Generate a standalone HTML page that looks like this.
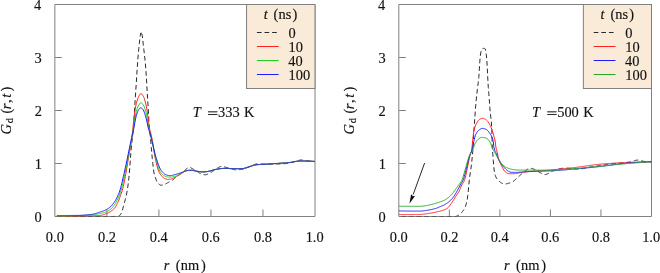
<!DOCTYPE html>
<html><head><meta charset="utf-8"><style>
html,body{margin:0;padding:0;background:#fff;}
svg{display:block;will-change:transform;}
.n{font-family:"Liberation Serif",serif;font-size:14.4px;fill:#111;stroke:#111;stroke-width:0.15px;}
</style></head><body>
<svg width="660" height="273" viewBox="0 0 660 273">

<line x1="54.85" y1="163.50" x2="61.85" y2="163.50" stroke="#808080" stroke-width="1"/>
<line x1="54.85" y1="110.50" x2="61.85" y2="110.50" stroke="#808080" stroke-width="1"/>
<line x1="54.85" y1="57.50" x2="61.85" y2="57.50" stroke="#808080" stroke-width="1"/>
<line x1="106.88" y1="216.5" x2="106.88" y2="209.50" stroke="#808080" stroke-width="1"/>
<line x1="158.91" y1="216.5" x2="158.91" y2="209.50" stroke="#808080" stroke-width="1"/>
<line x1="210.94" y1="216.5" x2="210.94" y2="209.50" stroke="#808080" stroke-width="1"/>
<line x1="262.97" y1="216.5" x2="262.97" y2="209.50" stroke="#808080" stroke-width="1"/>
<path d="M54.85,4.5 L54.85,216.5 L315.0,216.5 L315.0,4.5 Z" fill="none" stroke="#808080" stroke-width="1"/>
<clipPath id="c54"><rect x="54.85" y="4.5" width="260.15" height="212.00"/></clipPath>
<g clip-path="url(#c54)">
<path d="M56.80,216.50 L57.30,216.50 L57.80,216.50 L58.30,216.50 L58.80,216.50 L59.30,216.50 L59.80,216.50 L60.30,216.50 L60.80,216.50 L61.30,216.50 L61.80,216.50 L62.30,216.50 L62.80,216.50 L63.30,216.50 L63.80,216.50 L64.30,216.50 L64.80,216.50 L65.30,216.50 L65.80,216.50 L66.30,216.50 L66.80,216.50 L67.30,216.50 L67.80,216.50 L68.30,216.50 L68.80,216.50 L69.30,216.50 L69.80,216.50 L70.30,216.50 L70.80,216.50 L71.30,216.50 L71.80,216.50 L72.30,216.50 L72.80,216.50 L73.30,216.50 L73.80,216.50 L74.30,216.50 L74.80,216.50 L75.30,216.50 L75.80,216.50 L76.30,216.50 L76.80,216.50 L77.30,216.50 L77.80,216.50 L78.30,216.50 L78.80,216.50 L79.30,216.50 L79.80,216.50 L80.30,216.50 L80.80,216.50 L81.30,216.50 L81.80,216.50 L82.30,216.50 L82.80,216.50 L83.30,216.50 L83.80,216.50 L84.30,216.50 L84.80,216.50 L85.30,216.50 L85.80,216.50 L86.30,216.50 L86.80,216.50 L87.30,216.50 L87.80,216.50 L88.30,216.50 L88.80,216.50 L89.30,216.50 L89.80,216.50 L90.30,216.50 L90.80,216.50 L91.30,216.50 L91.80,216.50 L92.30,216.50 L92.80,216.50 L93.30,216.50 L93.80,216.50 L94.30,216.50 L94.80,216.50 L95.30,216.50 L95.80,216.50 L96.30,216.50 L96.80,216.50 L97.30,216.50 L97.80,216.50 L98.30,216.50 L98.80,216.50 L99.30,216.50 L99.80,216.50 L100.30,216.50 L100.80,216.50 L101.30,216.50 L101.80,216.50 L102.30,216.50 L102.80,216.50 L103.30,216.50 L103.80,216.50 L104.30,216.50 L104.80,216.50 L105.30,216.50 L105.80,216.50 L106.30,216.50 L106.80,216.50 L107.30,216.50 L107.80,216.50 L108.30,216.50 L108.80,216.50 L109.30,216.50 L109.80,216.50 L110.30,216.50 L110.80,216.50 L111.30,216.50 L111.80,216.49 L112.30,216.49 L112.80,216.48 L113.30,216.47 L113.80,216.46 L114.30,216.45 L114.80,216.44 L115.30,216.43 L115.80,216.41 L116.30,216.39 L116.80,216.37 L117.30,216.35 L117.80,216.33 L118.30,216.30 L118.80,216.16 L119.30,215.83 L119.80,215.33 L120.30,214.70 L120.80,213.98 L121.30,213.20 L121.80,212.11 L122.30,210.57 L122.80,208.75 L123.30,206.81 L123.80,204.94 L124.30,203.14 L124.80,201.34 L125.30,199.47 L125.80,197.48 L126.30,195.29 L126.80,192.86 L127.30,190.12 L127.80,186.83 L128.30,182.93 L128.80,178.48 L129.30,173.50 L129.80,167.14 L130.30,160.28 L130.80,153.61 L131.30,147.75 L131.80,143.00 L132.30,138.67 L132.80,134.27 L133.30,130.03 L133.80,123.76 L134.30,113.71 L134.80,105.25 L135.30,97.98 L135.80,90.55 L136.30,82.59 L136.80,74.64 L137.30,67.11 L137.80,59.88 L138.30,53.69 L138.80,48.48 L139.30,43.59 L139.80,39.17 L140.30,35.50 L140.80,32.95 L141.30,32.82" fill="none" stroke="#2a2a2a" stroke-width="1.0" stroke-dasharray="4.7 2.9" stroke-dashoffset="6.9" stroke-linejoin="round"/>
<path d="M141.30,32.82 L141.80,33.92 L142.30,35.92 L142.80,39.84 L143.30,44.86 L143.80,49.28 L144.30,53.44 L144.80,57.91 L145.30,63.06 L145.80,68.97 L146.30,76.15 L146.80,85.03 L147.30,93.75 L147.80,101.74 L148.30,110.00 L148.80,120.07 L149.30,127.90 L149.80,132.03 L150.30,136.00 L150.80,141.60 L151.30,147.66 L151.80,153.29 L152.30,158.68 L152.80,163.45 L153.30,168.01 L153.80,171.85 L154.30,174.32 L154.80,175.94 L155.30,177.28 L155.80,178.70 L156.30,180.24 L156.80,181.51 L157.30,182.34 L157.80,183.01 L158.30,183.54 L158.80,183.96 L159.30,184.37 L159.80,184.74 L160.30,185.03 L160.80,185.18 L161.30,185.19 L161.80,185.16 L162.30,185.10 L162.80,185.03 L163.30,184.94 L163.80,184.82 L164.30,184.60 L164.80,184.32 L165.30,184.02 L165.80,183.75 L166.30,183.50 L166.80,183.24 L167.30,182.99 L167.80,182.73 L168.30,182.47 L168.80,182.21 L169.30,181.94 L169.80,181.68 L170.30,181.42 L170.80,181.16 L171.30,180.89 L171.80,180.60 L172.30,180.30 L172.80,179.96 L173.30,179.58 L173.80,179.15 L174.30,178.71 L174.80,178.25 L175.30,177.80 L175.80,177.37 L176.30,176.96 L176.80,176.56 L177.30,176.17 L177.80,175.79 L178.30,175.41 L178.80,175.03 L179.30,174.65 L179.80,174.28 L180.30,173.91 L180.80,173.55 L181.30,173.19 L181.80,172.83 L182.30,172.47 L182.80,172.11 L183.30,171.75 L183.80,171.38 L184.30,170.99 L184.80,170.60 L185.30,170.14 L185.80,169.60 L186.30,169.02 L186.80,168.46 L187.30,167.96 L187.80,167.57 L188.30,167.34 L188.80,167.31 L189.30,167.36 L189.80,167.48 L190.30,167.64 L190.80,167.84 L191.30,168.08 L191.80,168.34 L192.30,168.61 L192.80,168.89 L193.30,169.17 L193.80,169.45 L194.30,169.70 L194.80,169.96 L195.30,170.25 L195.80,170.56 L196.30,170.89 L196.80,171.23 L197.30,171.57 L197.80,171.92 L198.30,172.27 L198.80,172.61 L199.30,172.93 L199.80,173.23 L200.30,173.51 L200.80,173.76 L201.30,173.97 L201.80,174.14 L202.30,174.28 L202.80,174.41 L203.30,174.53 L203.80,174.64 L204.30,174.72 L204.80,174.78 L205.30,174.80 L205.80,174.76 L206.30,174.65 L206.80,174.48 L207.30,174.28 L207.80,174.05 L208.30,173.83 L208.80,173.61 L209.30,173.38 L209.80,173.11 L210.30,172.83 L210.80,172.52 L211.30,172.20 L211.80,171.86 L212.30,171.52 L212.80,171.17 L213.30,170.83 L213.80,170.49 L214.30,170.16 L214.80,169.83 L215.30,169.53 L215.80,169.24 L216.30,168.94 L216.80,168.62 L217.30,168.28 L217.80,167.94 L218.30,167.61 L218.80,167.31 L219.30,167.03 L219.80,166.80 L220.30,166.63 L220.80,166.53 L221.30,166.50 L221.80,166.52 L222.30,166.56 L222.80,166.62 L223.30,166.70 L223.80,166.80 L224.30,166.90 L224.80,167.02 L225.30,167.13 L225.80,167.26 L226.30,167.38 L226.80,167.49 L227.30,167.60 L227.80,167.71 L228.30,167.84 L228.80,167.99 L229.30,168.14 L229.80,168.31 L230.30,168.47 L230.80,168.64 L231.30,168.81 L231.80,168.98 L232.30,169.13 L232.80,169.28 L233.30,169.42 L233.80,169.54 L234.30,169.64 L234.80,169.72 L235.30,169.77 L235.80,169.80 L236.30,169.80 L236.80,169.79 L237.30,169.78 L237.80,169.75 L238.30,169.73 L238.80,169.69 L239.30,169.65 L239.80,169.61 L240.30,169.56 L240.80,169.51 L241.30,169.46 L241.80,169.40 L242.30,169.34 L242.80,169.27 L243.30,169.18 L243.80,169.06 L244.30,168.91 L244.80,168.74 L245.30,168.55 L245.80,168.34 L246.30,168.12 L246.80,167.90 L247.30,167.67 L247.80,167.44 L248.30,167.21 L248.80,166.99 L249.30,166.77 L249.80,166.57 L250.30,166.39 L250.80,166.18 L251.30,165.96 L251.80,165.72 L252.30,165.49 L252.80,165.25 L253.30,165.02 L253.80,164.80 L254.30,164.59 L254.80,164.41 L255.30,164.26 L255.80,164.13 L256.30,164.05 L256.80,164.00 L257.30,164.00 L257.80,164.00 L258.30,164.01 L258.80,164.01 L259.30,164.02 L259.80,164.02 L260.30,164.03 L260.80,164.04 L261.30,164.05 L261.80,164.06 L262.30,164.07 L262.80,164.08 L263.30,164.10 L263.80,164.11 L264.30,164.12 L264.80,164.13 L265.30,164.14 L265.80,164.15 L266.30,164.16 L266.80,164.17 L267.30,164.18 L267.80,164.18 L268.30,164.19 L268.80,164.20 L269.30,164.20 L269.80,164.20 L270.30,164.20 L270.80,164.20 L271.30,164.20 L271.80,164.19 L272.30,164.19 L272.80,164.18 L273.30,164.17 L273.80,164.16 L274.30,164.15 L274.80,164.14 L275.30,164.13 L275.80,164.11 L276.30,164.10 L276.80,164.08 L277.30,164.06 L277.80,164.04 L278.30,164.02 L278.80,164.00 L279.30,163.98 L279.80,163.96 L280.30,163.93 L280.80,163.90 L281.30,163.88 L281.80,163.85 L282.30,163.82 L282.80,163.79 L283.30,163.76 L283.80,163.73 L284.30,163.70 L284.80,163.66 L285.30,163.63 L285.80,163.59 L286.30,163.55 L286.80,163.52 L287.30,163.47 L287.80,163.41 L288.30,163.33 L288.80,163.24 L289.30,163.13 L289.80,163.00 L290.30,162.87 L290.80,162.73 L291.30,162.58 L291.80,162.43 L292.30,162.28 L292.80,162.13 L293.30,161.97 L293.80,161.83 L294.30,161.68 L294.80,161.55 L295.30,161.42 L295.80,161.28 L296.30,161.12 L296.80,160.96 L297.30,160.79 L297.80,160.63 L298.30,160.47 L298.80,160.33 L299.30,160.21 L299.80,160.11 L300.30,160.04 L300.80,160.00 L301.30,160.00 L301.80,160.03 L302.30,160.07 L302.80,160.13 L303.30,160.20 L303.80,160.29 L304.30,160.38 L304.80,160.47 L305.30,160.57 L305.80,160.67 L306.30,160.76 L306.80,160.84 L307.30,160.92 L307.80,160.98 L308.30,161.03 L308.80,161.07 L309.30,161.12 L309.80,161.16 L310.30,161.21 L310.80,161.25 L311.30,161.29 L311.80,161.32 L312.30,161.36 L312.80,161.39 L313.30,161.42 L313.80,161.45 L314.30,161.47 L314.80,161.49 L315.00,161.50" fill="none" stroke="#2a2a2a" stroke-width="1.0" stroke-dasharray="4.7 2.9" stroke-dashoffset="6.94" stroke-linejoin="round"/>
<path d="M56.80,216.60 L57.30,216.60 L57.80,216.60 L58.30,216.60 L58.80,216.60 L59.30,216.60 L59.80,216.59 L60.30,216.59 L60.80,216.59 L61.30,216.59 L61.80,216.58 L62.30,216.58 L62.80,216.58 L63.30,216.57 L63.80,216.57 L64.30,216.56 L64.80,216.56 L65.30,216.55 L65.80,216.55 L66.30,216.54 L66.80,216.54 L67.30,216.53 L67.80,216.53 L68.30,216.52 L68.80,216.51 L69.30,216.51 L69.80,216.50 L70.30,216.50 L70.80,216.49 L71.30,216.48 L71.80,216.47 L72.30,216.46 L72.80,216.44 L73.30,216.43 L73.80,216.41 L74.30,216.40 L74.80,216.38 L75.30,216.36 L75.80,216.34 L76.30,216.32 L76.80,216.31 L77.30,216.29 L77.80,216.27 L78.30,216.25 L78.80,216.23 L79.30,216.20 L79.80,216.18 L80.30,216.16 L80.80,216.15 L81.30,216.13 L81.80,216.11 L82.30,216.09 L82.80,216.07 L83.30,216.05 L83.80,216.03 L84.30,216.01 L84.80,215.99 L85.30,215.97 L85.80,215.94 L86.30,215.92 L86.80,215.90 L87.30,215.88 L87.80,215.86 L88.30,215.84 L88.80,215.82 L89.30,215.80 L89.80,215.78 L90.30,215.76 L90.80,215.74 L91.30,215.72 L91.80,215.71 L92.30,215.69 L92.80,215.68 L93.30,215.67 L93.80,215.66 L94.30,215.65 L94.80,215.64 L95.30,215.63 L95.80,215.62 L96.30,215.61 L96.80,215.60 L97.30,215.59 L97.80,215.58 L98.30,215.57 L98.80,215.55 L99.30,215.53 L99.80,215.51 L100.30,215.48 L100.80,215.42 L101.30,215.32 L101.80,215.21 L102.30,215.07 L102.80,214.91 L103.30,214.75 L103.80,214.58 L104.30,214.40 L104.80,214.23 L105.30,214.07 L105.80,213.89 L106.30,213.70 L106.80,213.51 L107.30,213.30 L107.80,213.08 L108.30,212.85 L108.80,212.60 L109.30,212.34 L109.80,212.06 L110.30,211.76 L110.80,211.44 L111.30,211.09 L111.80,210.72 L112.30,210.31 L112.80,209.88 L113.30,209.41 L113.80,208.91 L114.30,208.38 L114.80,207.80 L115.30,207.14 L115.80,206.38 L116.30,205.51 L116.80,204.57 L117.30,203.56 L117.80,202.50 L118.30,201.40 L118.80,200.19 L119.30,198.82 L119.80,197.36 L120.30,195.86 L120.80,194.39 L121.30,193.00 L121.80,191.78 L122.30,190.38 L122.80,188.59 L123.30,186.52 L123.80,184.23 L124.30,181.77 L124.80,179.20 L125.30,176.57 L125.80,173.93 L126.30,171.08 L126.80,168.06 L127.30,164.94 L127.80,161.81 L128.30,158.76 L128.80,155.88 L129.30,153.25 L129.80,150.75 L130.30,148.22 L130.80,145.48 L131.30,142.38 L131.80,138.61 L132.30,133.86 L132.80,128.88 L133.30,124.27 L133.80,119.80 L134.30,115.72 L134.80,111.98 L135.30,108.79 L135.80,105.95 L136.30,103.52 L136.80,101.58 L137.30,99.88 L137.80,98.40 L138.30,97.20 L138.80,96.24 L139.30,95.31 L139.80,94.49 L140.30,93.89 L140.80,93.61 L141.30,93.70 L141.80,94.08 L142.30,94.67 L142.80,95.43 L143.30,96.27 L143.80,97.19 L144.30,98.48 L144.80,100.11 L145.30,101.94 L145.80,103.91 L146.30,106.20 L146.80,108.84 L147.30,111.97 L147.80,115.76 L148.30,119.76 L148.80,124.05 L149.30,127.33 L149.80,129.52 L150.30,131.32 L150.80,133.16 L151.30,135.35 L151.80,137.72 L152.30,140.26 L152.80,143.00 L153.30,146.20 L153.80,149.77 L154.30,153.21 L154.80,156.07 L155.30,158.53 L155.80,160.78 L156.30,162.93 L156.80,165.07 L157.30,167.12 L157.80,168.90 L158.30,170.32 L158.80,171.55 L159.30,172.59 L159.80,173.46 L160.30,174.23 L160.80,174.94 L161.30,175.59 L161.80,176.18 L162.30,176.71 L162.80,177.19 L163.30,177.60 L163.80,177.97 L164.30,178.31 L164.80,178.60 L165.30,178.83 L165.80,179.00 L166.30,179.16 L166.80,179.29 L167.30,179.38 L167.80,179.40 L168.30,179.39 L168.80,179.36 L169.30,179.32 L169.80,179.26 L170.30,179.20 L170.80,179.13 L171.30,179.04 L171.80,178.88 L172.30,178.66 L172.80,178.41 L173.30,178.13 L173.80,177.86 L174.30,177.60 L174.80,177.36 L175.30,177.11 L175.80,176.86 L176.30,176.61 L176.80,176.35 L177.30,176.08 L177.80,175.81 L178.30,175.53 L178.80,175.24 L179.30,174.95 L179.80,174.64 L180.30,174.33 L180.80,174.00 L181.30,173.64 L181.80,173.25 L182.30,172.86 L182.80,172.48 L183.30,172.12 L183.80,171.80 L184.30,171.54 L184.80,171.33 L185.30,171.12 L185.80,170.93 L186.30,170.75 L186.80,170.60 L187.30,170.49 L187.80,170.42 L188.30,170.38 L188.80,170.36 L189.30,170.34 L189.80,170.32 L190.30,170.31 L190.80,170.30 L191.30,170.30 L191.80,170.33 L192.30,170.38 L192.80,170.44 L193.30,170.52 L193.80,170.61 L194.30,170.71 L194.80,170.81 L195.30,170.92 L195.80,171.02 L196.30,171.13 L196.80,171.22 L197.30,171.30 L197.80,171.38 L198.30,171.43 L198.80,171.50 L199.30,171.56 L199.80,171.62 L200.30,171.68 L200.80,171.73 L201.30,171.78 L201.80,171.83 L202.30,171.86 L202.80,171.89 L203.30,171.90 L203.80,171.90 L204.30,171.88 L204.80,171.84 L205.30,171.79 L205.80,171.73 L206.30,171.67 L206.80,171.60 L207.30,171.53 L207.80,171.46 L208.30,171.37 L208.80,171.27 L209.30,171.15 L209.80,171.03 L210.30,170.89 L210.80,170.75 L211.30,170.60 L211.80,170.45 L212.30,170.30 L212.80,170.15 L213.30,170.01 L213.80,169.87 L214.30,169.73 L214.80,169.60 L215.30,169.49 L215.80,169.39 L216.30,169.30 L216.80,169.22 L217.30,169.14 L217.80,169.06 L218.30,168.98 L218.80,168.90 L219.30,168.82 L219.80,168.75 L220.30,168.68 L220.80,168.61 L221.30,168.56 L221.80,168.51 L222.30,168.47 L222.80,168.43 L223.30,168.41 L223.80,168.40 L224.30,168.40 L224.80,168.40 L225.30,168.41 L225.80,168.42 L226.30,168.43 L226.80,168.45 L227.30,168.46 L227.80,168.48 L228.30,168.50 L228.80,168.52 L229.30,168.54 L229.80,168.56 L230.30,168.58 L230.80,168.60 L231.30,168.62 L231.80,168.64 L232.30,168.65 L232.80,168.67 L233.30,168.68 L233.80,168.69 L234.30,168.70 L234.80,168.70 L235.30,168.70 L235.80,168.70 L236.30,168.70 L236.80,168.70 L237.30,168.70 L237.80,168.70 L238.30,168.70 L238.80,168.70 L239.30,168.70 L239.80,168.70 L240.30,168.70 L240.80,168.70 L241.30,168.70 L241.80,168.69 L242.30,168.66 L242.80,168.61 L243.30,168.53 L243.80,168.43 L244.30,168.31 L244.80,168.18 L245.30,168.03 L245.80,167.87 L246.30,167.71 L246.80,167.54 L247.30,167.37 L247.80,167.19 L248.30,167.02 L248.80,166.86 L249.30,166.70 L249.80,166.56 L250.30,166.42 L250.80,166.26 L251.30,166.10 L251.80,165.94 L252.30,165.77 L252.80,165.60 L253.30,165.43 L253.80,165.28 L254.30,165.14 L254.80,165.01 L255.30,164.90 L255.80,164.82 L256.30,164.77 L256.80,164.72 L257.30,164.67 L257.80,164.63 L258.30,164.59 L258.80,164.55 L259.30,164.51 L259.80,164.48 L260.30,164.45 L260.80,164.42 L261.30,164.40 L261.80,164.37 L262.30,164.34 L262.80,164.32 L263.30,164.30 L263.80,164.27 L264.30,164.25 L264.80,164.22 L265.30,164.20 L265.80,164.17 L266.30,164.14 L266.80,164.11 L267.30,164.08 L267.80,164.05 L268.30,164.02 L268.80,163.99 L269.30,163.96 L269.80,163.92 L270.30,163.89 L270.80,163.86 L271.30,163.83 L271.80,163.80 L272.30,163.77 L272.80,163.74 L273.30,163.71 L273.80,163.67 L274.30,163.64 L274.80,163.61 L275.30,163.58 L275.80,163.55 L276.30,163.51 L276.80,163.48 L277.30,163.45 L277.80,163.41 L278.30,163.38 L278.80,163.35 L279.30,163.31 L279.80,163.28 L280.30,163.25 L280.80,163.22 L281.30,163.18 L281.80,163.15 L282.30,163.12 L282.80,163.09 L283.30,163.05 L283.80,163.02 L284.30,162.98 L284.80,162.95 L285.30,162.91 L285.80,162.87 L286.30,162.84 L286.80,162.80 L287.30,162.75 L287.80,162.71 L288.30,162.67 L288.80,162.62 L289.30,162.57 L289.80,162.51 L290.30,162.44 L290.80,162.36 L291.30,162.28 L291.80,162.19 L292.30,162.10 L292.80,162.00 L293.30,161.90 L293.80,161.80 L294.30,161.71 L294.80,161.61 L295.30,161.52 L295.80,161.43 L296.30,161.34 L296.80,161.26 L297.30,161.19 L297.80,161.13 L298.30,161.08 L298.80,161.04 L299.30,161.01 L299.80,161.00 L300.30,161.00 L300.80,161.00 L301.30,161.00 L301.80,161.00 L302.30,161.00 L302.80,161.00 L303.30,161.01 L303.80,161.01 L304.30,161.01 L304.80,161.02 L305.30,161.02 L305.80,161.03 L306.30,161.04 L306.80,161.05 L307.30,161.06 L307.80,161.07 L308.30,161.08 L308.80,161.10 L309.30,161.12 L309.80,161.14 L310.30,161.16 L310.80,161.19 L311.30,161.21 L311.80,161.24 L312.30,161.28 L312.80,161.31 L313.30,161.35 L313.80,161.39 L314.30,161.43 L314.80,161.48 L315.00,161.50" fill="none" stroke="#ff2020" stroke-width="1.0" stroke-linejoin="round"/>
<path d="M56.80,216.30 L57.30,216.30 L57.80,216.30 L58.30,216.30 L58.80,216.29 L59.30,216.29 L59.80,216.29 L60.30,216.28 L60.80,216.28 L61.30,216.27 L61.80,216.27 L62.30,216.26 L62.80,216.25 L63.30,216.24 L63.80,216.24 L64.30,216.23 L64.80,216.22 L65.30,216.21 L65.80,216.20 L66.30,216.19 L66.80,216.18 L67.30,216.17 L67.80,216.15 L68.30,216.14 L68.80,216.12 L69.30,216.09 L69.80,216.07 L70.30,216.05 L70.80,216.02 L71.30,215.99 L71.80,215.97 L72.30,215.94 L72.80,215.91 L73.30,215.88 L73.80,215.85 L74.30,215.82 L74.80,215.79 L75.30,215.76 L75.80,215.73 L76.30,215.70 L76.80,215.67 L77.30,215.64 L77.80,215.61 L78.30,215.58 L78.80,215.56 L79.30,215.53 L79.80,215.51 L80.30,215.48 L80.80,215.45 L81.30,215.43 L81.80,215.40 L82.30,215.38 L82.80,215.35 L83.30,215.33 L83.80,215.30 L84.30,215.27 L84.80,215.24 L85.30,215.22 L85.80,215.19 L86.30,215.16 L86.80,215.13 L87.30,215.09 L87.80,215.06 L88.30,215.03 L88.80,214.99 L89.30,214.95 L89.80,214.92 L90.30,214.88 L90.80,214.83 L91.30,214.79 L91.80,214.75 L92.30,214.70 L92.80,214.66 L93.30,214.61 L93.80,214.55 L94.30,214.50 L94.80,214.45 L95.30,214.39 L95.80,214.33 L96.30,214.26 L96.80,214.20 L97.30,214.13 L97.80,214.06 L98.30,213.98 L98.80,213.90 L99.30,213.82 L99.80,213.74 L100.30,213.64 L100.80,213.54 L101.30,213.42 L101.80,213.30 L102.30,213.16 L102.80,213.01 L103.30,212.85 L103.80,212.69 L104.30,212.51 L104.80,212.34 L105.30,212.15 L105.80,211.96 L106.30,211.75 L106.80,211.53 L107.30,211.30 L107.80,211.05 L108.30,210.78 L108.80,210.50 L109.30,210.19 L109.80,209.87 L110.30,209.51 L110.80,209.10 L111.30,208.64 L111.80,208.14 L112.30,207.61 L112.80,207.03 L113.30,206.43 L113.80,205.80 L114.30,205.13 L114.80,204.39 L115.30,203.60 L115.80,202.75 L116.30,201.84 L116.80,200.89 L117.30,199.90 L117.80,198.85 L118.30,197.74 L118.80,196.55 L119.30,195.29 L119.80,193.95 L120.30,192.53 L120.80,191.01 L121.30,189.38 L121.80,187.57 L122.30,185.61 L122.80,183.53 L123.30,181.36 L123.80,179.12 L124.30,176.84 L124.80,174.54 L125.30,172.15 L125.80,169.65 L126.30,167.07 L126.80,164.43 L127.30,161.77 L127.80,159.11 L128.30,156.48 L128.80,153.86 L129.30,151.24 L129.80,148.60 L130.30,145.93 L130.80,143.21 L131.30,140.44 L131.80,137.62 L132.30,134.75 L132.80,131.83 L133.30,128.83 L133.80,125.73 L134.30,122.36 L134.80,119.06 L135.30,116.22 L135.80,113.64 L136.30,111.43 L136.80,109.72 L137.30,108.25 L137.80,106.99 L138.30,105.95 L138.80,105.09 L139.30,104.26 L139.80,103.52 L140.30,102.97 L140.80,102.71 L141.30,102.79 L141.80,103.14 L142.30,103.68 L142.80,104.36 L143.30,105.13 L143.80,105.95 L144.30,107.07 L144.80,108.46 L145.30,110.04 L145.80,111.74 L146.30,113.68 L146.80,115.93 L147.30,118.60 L147.80,122.44 L148.30,126.23 L148.80,128.70 L149.30,130.66 L149.80,132.41 L150.30,134.21 L150.80,136.24 L151.30,138.36 L151.80,140.53 L152.30,142.74 L152.80,145.00 L153.30,147.40 L153.80,149.91 L154.30,152.37 L154.80,154.60 L155.30,156.47 L155.80,158.10 L156.30,159.66 L156.80,161.29 L157.30,163.19 L157.80,165.37 L158.30,167.37 L158.80,168.82 L159.30,170.06 L159.80,171.11 L160.30,171.96 L160.80,172.64 L161.30,173.26 L161.80,173.81 L162.30,174.31 L162.80,174.76 L163.30,175.16 L163.80,175.51 L164.30,175.82 L164.80,176.11 L165.30,176.36 L165.80,176.58 L166.30,176.75 L166.80,176.87 L167.30,176.97 L167.80,177.07 L168.30,177.14 L168.80,177.19 L169.30,177.20 L169.80,177.19 L170.30,177.16 L170.80,177.11 L171.30,177.05 L171.80,176.98 L172.30,176.89 L172.80,176.80 L173.30,176.71 L173.80,176.60 L174.30,176.50 L174.80,176.37 L175.30,176.21 L175.80,176.02 L176.30,175.81 L176.80,175.58 L177.30,175.34 L177.80,175.10 L178.30,174.85 L178.80,174.58 L179.30,174.30 L179.80,174.00 L180.30,173.70 L180.80,173.41 L181.30,173.13 L181.80,172.85 L182.30,172.56 L182.80,172.28 L183.30,172.01 L183.80,171.76 L184.30,171.54 L184.80,171.34 L185.30,171.14 L185.80,170.95 L186.30,170.77 L186.80,170.61 L187.30,170.49 L187.80,170.42 L188.30,170.38 L188.80,170.36 L189.30,170.34 L189.80,170.32 L190.30,170.31 L190.80,170.30 L191.30,170.30 L191.80,170.33 L192.30,170.38 L192.80,170.44 L193.30,170.52 L193.80,170.61 L194.30,170.71 L194.80,170.81 L195.30,170.92 L195.80,171.02 L196.30,171.13 L196.80,171.22 L197.30,171.30 L197.80,171.38 L198.30,171.43 L198.80,171.50 L199.30,171.56 L199.80,171.62 L200.30,171.68 L200.80,171.73 L201.30,171.78 L201.80,171.83 L202.30,171.86 L202.80,171.89 L203.30,171.90 L203.80,171.90 L204.30,171.88 L204.80,171.84 L205.30,171.79 L205.80,171.73 L206.30,171.67 L206.80,171.60 L207.30,171.53 L207.80,171.46 L208.30,171.37 L208.80,171.27 L209.30,171.15 L209.80,171.03 L210.30,170.89 L210.80,170.75 L211.30,170.60 L211.80,170.45 L212.30,170.30 L212.80,170.15 L213.30,170.01 L213.80,169.87 L214.30,169.73 L214.80,169.60 L215.30,169.49 L215.80,169.39 L216.30,169.30 L216.80,169.22 L217.30,169.14 L217.80,169.06 L218.30,168.98 L218.80,168.90 L219.30,168.82 L219.80,168.75 L220.30,168.68 L220.80,168.61 L221.30,168.56 L221.80,168.51 L222.30,168.47 L222.80,168.43 L223.30,168.41 L223.80,168.40 L224.30,168.40 L224.80,168.40 L225.30,168.41 L225.80,168.42 L226.30,168.43 L226.80,168.45 L227.30,168.46 L227.80,168.48 L228.30,168.50 L228.80,168.52 L229.30,168.54 L229.80,168.56 L230.30,168.58 L230.80,168.60 L231.30,168.62 L231.80,168.64 L232.30,168.65 L232.80,168.67 L233.30,168.68 L233.80,168.69 L234.30,168.70 L234.80,168.70 L235.30,168.70 L235.80,168.70 L236.30,168.70 L236.80,168.70 L237.30,168.70 L237.80,168.70 L238.30,168.70 L238.80,168.70 L239.30,168.70 L239.80,168.70 L240.30,168.70 L240.80,168.70 L241.30,168.70 L241.80,168.69 L242.30,168.66 L242.80,168.61 L243.30,168.53 L243.80,168.43 L244.30,168.31 L244.80,168.18 L245.30,168.03 L245.80,167.87 L246.30,167.71 L246.80,167.54 L247.30,167.37 L247.80,167.19 L248.30,167.02 L248.80,166.86 L249.30,166.70 L249.80,166.56 L250.30,166.42 L250.80,166.26 L251.30,166.10 L251.80,165.94 L252.30,165.77 L252.80,165.60 L253.30,165.43 L253.80,165.28 L254.30,165.14 L254.80,165.01 L255.30,164.90 L255.80,164.82 L256.30,164.77 L256.80,164.72 L257.30,164.67 L257.80,164.63 L258.30,164.59 L258.80,164.55 L259.30,164.51 L259.80,164.48 L260.30,164.45 L260.80,164.42 L261.30,164.40 L261.80,164.37 L262.30,164.34 L262.80,164.32 L263.30,164.30 L263.80,164.27 L264.30,164.25 L264.80,164.22 L265.30,164.20 L265.80,164.17 L266.30,164.14 L266.80,164.11 L267.30,164.08 L267.80,164.05 L268.30,164.02 L268.80,163.99 L269.30,163.96 L269.80,163.92 L270.30,163.89 L270.80,163.86 L271.30,163.83 L271.80,163.80 L272.30,163.77 L272.80,163.74 L273.30,163.71 L273.80,163.67 L274.30,163.64 L274.80,163.61 L275.30,163.58 L275.80,163.55 L276.30,163.51 L276.80,163.48 L277.30,163.45 L277.80,163.41 L278.30,163.38 L278.80,163.35 L279.30,163.31 L279.80,163.28 L280.30,163.25 L280.80,163.22 L281.30,163.18 L281.80,163.15 L282.30,163.12 L282.80,163.09 L283.30,163.05 L283.80,163.02 L284.30,162.98 L284.80,162.95 L285.30,162.91 L285.80,162.87 L286.30,162.84 L286.80,162.80 L287.30,162.75 L287.80,162.71 L288.30,162.67 L288.80,162.62 L289.30,162.57 L289.80,162.51 L290.30,162.44 L290.80,162.36 L291.30,162.28 L291.80,162.19 L292.30,162.10 L292.80,162.00 L293.30,161.90 L293.80,161.80 L294.30,161.71 L294.80,161.61 L295.30,161.52 L295.80,161.43 L296.30,161.34 L296.80,161.26 L297.30,161.19 L297.80,161.13 L298.30,161.08 L298.80,161.04 L299.30,161.01 L299.80,161.00 L300.30,161.00 L300.80,161.00 L301.30,161.00 L301.80,161.00 L302.30,161.00 L302.80,161.00 L303.30,161.01 L303.80,161.01 L304.30,161.01 L304.80,161.02 L305.30,161.02 L305.80,161.03 L306.30,161.04 L306.80,161.05 L307.30,161.06 L307.80,161.07 L308.30,161.08 L308.80,161.10 L309.30,161.12 L309.80,161.14 L310.30,161.16 L310.80,161.19 L311.30,161.21 L311.80,161.24 L312.30,161.28 L312.80,161.31 L313.30,161.35 L313.80,161.39 L314.30,161.43 L314.80,161.48 L315.00,161.50" fill="none" stroke="#20d020" stroke-width="1.0" stroke-linejoin="round"/>
<path d="M56.80,215.50 L57.30,215.50 L57.80,215.50 L58.30,215.50 L58.80,215.50 L59.30,215.50 L59.80,215.50 L60.30,215.50 L60.80,215.50 L61.30,215.50 L61.80,215.49 L62.30,215.49 L62.80,215.49 L63.30,215.49 L63.80,215.49 L64.30,215.49 L64.80,215.49 L65.30,215.48 L65.80,215.48 L66.30,215.48 L66.80,215.48 L67.30,215.48 L67.80,215.47 L68.30,215.47 L68.80,215.47 L69.30,215.47 L69.80,215.46 L70.30,215.46 L70.80,215.46 L71.30,215.45 L71.80,215.45 L72.30,215.45 L72.80,215.44 L73.30,215.44 L73.80,215.44 L74.30,215.43 L74.80,215.43 L75.30,215.42 L75.80,215.42 L76.30,215.42 L76.80,215.41 L77.30,215.41 L77.80,215.40 L78.30,215.40 L78.80,215.39 L79.30,215.38 L79.80,215.36 L80.30,215.35 L80.80,215.33 L81.30,215.31 L81.80,215.28 L82.30,215.26 L82.80,215.23 L83.30,215.20 L83.80,215.16 L84.30,215.13 L84.80,215.09 L85.30,215.05 L85.80,215.01 L86.30,214.97 L86.80,214.92 L87.30,214.87 L87.80,214.82 L88.30,214.77 L88.80,214.72 L89.30,214.67 L89.80,214.61 L90.30,214.55 L90.80,214.50 L91.30,214.44 L91.80,214.37 L92.30,214.30 L92.80,214.21 L93.30,214.11 L93.80,214.00 L94.30,213.88 L94.80,213.74 L95.30,213.60 L95.80,213.46 L96.30,213.30 L96.80,213.15 L97.30,212.98 L97.80,212.82 L98.30,212.65 L98.80,212.49 L99.30,212.33 L99.80,212.16 L100.30,212.00 L100.80,211.84 L101.30,211.68 L101.80,211.51 L102.30,211.34 L102.80,211.16 L103.30,210.97 L103.80,210.77 L104.30,210.56 L104.80,210.35 L105.30,210.11 L105.80,209.87 L106.30,209.62 L106.80,209.35 L107.30,209.07 L107.80,208.77 L108.30,208.45 L108.80,208.12 L109.30,207.76 L109.80,207.38 L110.30,206.97 L110.80,206.50 L111.30,205.99 L111.80,205.43 L112.30,204.84 L112.80,204.22 L113.30,203.57 L113.80,202.90 L114.30,202.20 L114.80,201.44 L115.30,200.63 L115.80,199.77 L116.30,198.86 L116.80,197.90 L117.30,196.89 L117.80,195.82 L118.30,194.68 L118.80,193.45 L119.30,192.13 L119.80,190.70 L120.30,189.10 L120.80,187.31 L121.30,185.36 L121.80,183.28 L122.30,181.13 L122.80,178.94 L123.30,176.74 L123.80,174.57 L124.30,172.38 L124.80,170.13 L125.30,167.84 L125.80,165.51 L126.30,163.16 L126.80,160.79 L127.30,158.42 L127.80,156.05 L128.30,153.63 L128.80,151.17 L129.30,148.70 L129.80,146.24 L130.30,143.82 L130.80,141.46 L131.30,139.22 L131.80,137.11 L132.30,135.06 L132.80,133.00 L133.30,130.84 L133.80,128.51 L134.30,125.87 L134.80,122.70 L135.30,120.02 L135.80,117.74 L136.30,115.78 L136.80,114.14 L137.30,112.64 L137.80,111.33 L138.30,110.31 L138.80,109.59 L139.30,108.94 L139.80,108.39 L140.30,107.99 L140.80,107.81 L141.30,107.89 L141.80,108.20 L142.30,108.70 L142.80,109.32 L143.30,110.00 L143.80,110.95 L144.30,112.28 L144.80,113.79 L145.30,115.34 L145.80,117.07 L146.30,118.96 L146.80,121.00 L147.30,123.41 L147.80,125.93 L148.30,127.94 L148.80,129.62 L149.30,131.15 L149.80,132.66 L150.30,134.29 L150.80,136.14 L151.30,138.16 L151.80,140.28 L152.30,142.44 L152.80,144.58 L153.30,146.70 L153.80,148.87 L154.30,151.03 L154.80,153.09 L155.30,155.00 L155.80,156.74 L156.30,158.36 L156.80,159.91 L157.30,161.41 L157.80,162.90 L158.30,164.40 L158.80,165.82 L159.30,167.07 L159.80,168.09 L160.30,169.00 L160.80,169.81 L161.30,170.54 L161.80,171.18 L162.30,171.77 L162.80,172.35 L163.30,172.89 L163.80,173.40 L164.30,173.85 L164.80,174.22 L165.30,174.51 L165.80,174.72 L166.30,174.91 L166.80,175.09 L167.30,175.25 L167.80,175.40 L168.30,175.52 L168.80,175.61 L169.30,175.67 L169.80,175.70 L170.30,175.69 L170.80,175.65 L171.30,175.57 L171.80,175.48 L172.30,175.37 L172.80,175.24 L173.30,175.10 L173.80,174.96 L174.30,174.82 L174.80,174.68 L175.30,174.55 L175.80,174.41 L176.30,174.26 L176.80,174.10 L177.30,173.94 L177.80,173.77 L178.30,173.61 L178.80,173.44 L179.30,173.27 L179.80,173.10 L180.30,172.93 L180.80,172.75 L181.30,172.58 L181.80,172.40 L182.30,172.22 L182.80,172.04 L183.30,171.87 L183.80,171.70 L184.30,171.53 L184.80,171.36 L185.30,171.17 L185.80,170.98 L186.30,170.79 L186.80,170.63 L187.30,170.50 L187.80,170.42 L188.30,170.38 L188.80,170.36 L189.30,170.34 L189.80,170.32 L190.30,170.31 L190.80,170.30 L191.30,170.30 L191.80,170.33 L192.30,170.38 L192.80,170.44 L193.30,170.52 L193.80,170.61 L194.30,170.71 L194.80,170.81 L195.30,170.92 L195.80,171.02 L196.30,171.13 L196.80,171.22 L197.30,171.30 L197.80,171.38 L198.30,171.43 L198.80,171.50 L199.30,171.56 L199.80,171.62 L200.30,171.68 L200.80,171.73 L201.30,171.78 L201.80,171.83 L202.30,171.86 L202.80,171.89 L203.30,171.90 L203.80,171.90 L204.30,171.88 L204.80,171.84 L205.30,171.79 L205.80,171.73 L206.30,171.67 L206.80,171.60 L207.30,171.53 L207.80,171.46 L208.30,171.37 L208.80,171.27 L209.30,171.15 L209.80,171.03 L210.30,170.89 L210.80,170.75 L211.30,170.60 L211.80,170.45 L212.30,170.30 L212.80,170.15 L213.30,170.01 L213.80,169.87 L214.30,169.73 L214.80,169.60 L215.30,169.49 L215.80,169.39 L216.30,169.30 L216.80,169.22 L217.30,169.14 L217.80,169.06 L218.30,168.98 L218.80,168.90 L219.30,168.82 L219.80,168.75 L220.30,168.68 L220.80,168.61 L221.30,168.56 L221.80,168.51 L222.30,168.47 L222.80,168.43 L223.30,168.41 L223.80,168.40 L224.30,168.40 L224.80,168.40 L225.30,168.41 L225.80,168.42 L226.30,168.43 L226.80,168.45 L227.30,168.46 L227.80,168.48 L228.30,168.50 L228.80,168.52 L229.30,168.54 L229.80,168.56 L230.30,168.58 L230.80,168.60 L231.30,168.62 L231.80,168.64 L232.30,168.65 L232.80,168.67 L233.30,168.68 L233.80,168.69 L234.30,168.70 L234.80,168.70 L235.30,168.70 L235.80,168.70 L236.30,168.70 L236.80,168.70 L237.30,168.70 L237.80,168.70 L238.30,168.70 L238.80,168.70 L239.30,168.70 L239.80,168.70 L240.30,168.70 L240.80,168.70 L241.30,168.70 L241.80,168.69 L242.30,168.66 L242.80,168.61 L243.30,168.53 L243.80,168.43 L244.30,168.31 L244.80,168.18 L245.30,168.03 L245.80,167.87 L246.30,167.71 L246.80,167.54 L247.30,167.37 L247.80,167.19 L248.30,167.02 L248.80,166.86 L249.30,166.70 L249.80,166.56 L250.30,166.42 L250.80,166.26 L251.30,166.10 L251.80,165.94 L252.30,165.77 L252.80,165.60 L253.30,165.43 L253.80,165.28 L254.30,165.14 L254.80,165.01 L255.30,164.90 L255.80,164.82 L256.30,164.77 L256.80,164.72 L257.30,164.67 L257.80,164.63 L258.30,164.59 L258.80,164.55 L259.30,164.51 L259.80,164.48 L260.30,164.45 L260.80,164.42 L261.30,164.40 L261.80,164.37 L262.30,164.34 L262.80,164.32 L263.30,164.30 L263.80,164.27 L264.30,164.25 L264.80,164.22 L265.30,164.20 L265.80,164.17 L266.30,164.14 L266.80,164.11 L267.30,164.08 L267.80,164.05 L268.30,164.02 L268.80,163.99 L269.30,163.96 L269.80,163.92 L270.30,163.89 L270.80,163.86 L271.30,163.83 L271.80,163.80 L272.30,163.77 L272.80,163.74 L273.30,163.71 L273.80,163.67 L274.30,163.64 L274.80,163.61 L275.30,163.58 L275.80,163.55 L276.30,163.51 L276.80,163.48 L277.30,163.45 L277.80,163.41 L278.30,163.38 L278.80,163.35 L279.30,163.31 L279.80,163.28 L280.30,163.25 L280.80,163.22 L281.30,163.18 L281.80,163.15 L282.30,163.12 L282.80,163.09 L283.30,163.05 L283.80,163.02 L284.30,162.98 L284.80,162.95 L285.30,162.91 L285.80,162.87 L286.30,162.84 L286.80,162.80 L287.30,162.75 L287.80,162.71 L288.30,162.67 L288.80,162.62 L289.30,162.57 L289.80,162.51 L290.30,162.44 L290.80,162.36 L291.30,162.28 L291.80,162.19 L292.30,162.10 L292.80,162.00 L293.30,161.90 L293.80,161.80 L294.30,161.71 L294.80,161.61 L295.30,161.52 L295.80,161.43 L296.30,161.34 L296.80,161.26 L297.30,161.19 L297.80,161.13 L298.30,161.08 L298.80,161.04 L299.30,161.01 L299.80,161.00 L300.30,161.00 L300.80,161.00 L301.30,161.00 L301.80,161.00 L302.30,161.00 L302.80,161.00 L303.30,161.01 L303.80,161.01 L304.30,161.01 L304.80,161.02 L305.30,161.02 L305.80,161.03 L306.30,161.04 L306.80,161.05 L307.30,161.06 L307.80,161.07 L308.30,161.08 L308.80,161.10 L309.30,161.12 L309.80,161.14 L310.30,161.16 L310.80,161.19 L311.30,161.21 L311.80,161.24 L312.30,161.28 L312.80,161.31 L313.30,161.35 L313.80,161.39 L314.30,161.43 L314.80,161.48 L315.00,161.50" fill="none" stroke="#1e1eff" stroke-width="1.0" stroke-linejoin="round"/>
</g>
<g class="n">
<text x="34.45" y="221.65">0</text>
<text x="34.75" y="168.65">1</text>
<text x="34.65" y="115.65">2</text>
<text x="34.45" y="62.65">3</text>
<text x="34.05" y="9.65">4</text>
<text x="45.85" y="242.00">0.0</text>
<text x="97.98" y="242.00">0.2</text>
<text x="149.71" y="242.00">0.4</text>
<text x="201.84" y="242.00">0.6</text>
<text x="253.97" y="242.00">0.8</text>
<text x="305.65" y="242.00">1.0</text>
<text x="163.70" y="269.60" font-style="italic">r</text>
<text x="175.80" y="269.60">(</text>
<text x="180.70" y="269.60">nm</text>
<text x="200.90" y="269.60">)</text>
<text x="192.70" y="117.00" font-style="italic">T</text>
<rect x="208.10" y="111.35" width="9.2" height="0.9" fill="#222"/><rect x="208.10" y="114.05" width="9.2" height="0.9" fill="#222"/>
<text x="218.00" y="117.00">333</text>
<text x="243.90" y="117.00">K</text>
</g>
<rect x="246.55" y="4.5" width="68.45" height="84.00" fill="#faebd8" stroke="#808080" stroke-width="1"/>
<g class="n">
<text x="263.70" y="18.70" font-style="italic">t</text>
<text x="273.60" y="18.70">(</text>
<text x="278.50" y="18.70">ns</text>
<text x="292.40" y="18.70">)</text>
</g>
<line x1="256.90" y1="32.50" x2="278.70" y2="32.50" stroke="#2a2a2a" stroke-width="1" stroke-dasharray="4.7 2.9"/>
<g class="n"><text x="288.50" y="37.80">0</text></g>
<line x1="256.90" y1="46.50" x2="278.70" y2="46.50" stroke="#ff2020" stroke-width="1"/>
<g class="n"><text x="288.50" y="51.80">10</text></g>
<line x1="256.90" y1="60.50" x2="278.70" y2="60.50" stroke="#20d020" stroke-width="1"/>
<g class="n"><text x="288.30" y="65.80">40</text></g>
<line x1="256.90" y1="74.50" x2="278.70" y2="74.50" stroke="#1e1eff" stroke-width="1"/>
<g class="n"><text x="288.50" y="79.80">100</text></g>
<line x1="398.8" y1="163.50" x2="405.80" y2="163.50" stroke="#808080" stroke-width="1"/>
<line x1="398.8" y1="110.50" x2="405.80" y2="110.50" stroke="#808080" stroke-width="1"/>
<line x1="398.8" y1="57.50" x2="405.80" y2="57.50" stroke="#808080" stroke-width="1"/>
<line x1="449.34" y1="216.5" x2="449.34" y2="209.50" stroke="#808080" stroke-width="1"/>
<line x1="499.88" y1="216.5" x2="499.88" y2="209.50" stroke="#808080" stroke-width="1"/>
<line x1="550.42" y1="216.5" x2="550.42" y2="209.50" stroke="#808080" stroke-width="1"/>
<line x1="600.96" y1="216.5" x2="600.96" y2="209.50" stroke="#808080" stroke-width="1"/>
<path d="M398.8,4.5 L398.8,216.5 L651.5,216.5 L651.5,4.5 Z" fill="none" stroke="#808080" stroke-width="1"/>
<clipPath id="c398"><rect x="398.8" y="4.5" width="252.70" height="212.00"/></clipPath>
<g clip-path="url(#c398)">
<path d="M398.80,216.40 L399.30,216.40 L399.80,216.41 L400.30,216.41 L400.80,216.41 L401.30,216.41 L401.80,216.42 L402.30,216.42 L402.80,216.42 L403.30,216.42 L403.80,216.42 L404.30,216.43 L404.80,216.43 L405.30,216.43 L405.80,216.43 L406.30,216.43 L406.80,216.44 L407.30,216.44 L407.80,216.44 L408.30,216.44 L408.80,216.44 L409.30,216.45 L409.80,216.45 L410.30,216.45 L410.80,216.45 L411.30,216.45 L411.80,216.45 L412.30,216.46 L412.80,216.46 L413.30,216.46 L413.80,216.46 L414.30,216.46 L414.80,216.46 L415.30,216.46 L415.80,216.47 L416.30,216.47 L416.80,216.47 L417.30,216.47 L417.80,216.47 L418.30,216.47 L418.80,216.47 L419.30,216.47 L419.80,216.48 L420.30,216.48 L420.80,216.48 L421.30,216.48 L421.80,216.48 L422.30,216.48 L422.80,216.48 L423.30,216.48 L423.80,216.48 L424.30,216.48 L424.80,216.48 L425.30,216.49 L425.80,216.49 L426.30,216.49 L426.80,216.49 L427.30,216.49 L427.80,216.49 L428.30,216.49 L428.80,216.49 L429.30,216.49 L429.80,216.49 L430.30,216.49 L430.80,216.49 L431.30,216.49 L431.80,216.49 L432.30,216.49 L432.80,216.49 L433.30,216.49 L433.80,216.49 L434.30,216.50 L434.80,216.50 L435.30,216.50 L435.80,216.50 L436.30,216.50 L436.80,216.50 L437.30,216.50 L437.80,216.50 L438.30,216.50 L438.80,216.50 L439.30,216.50 L439.80,216.50 L440.30,216.50 L440.80,216.50 L441.30,216.50 L441.80,216.50 L442.30,216.50 L442.80,216.50 L443.30,216.50 L443.80,216.50 L444.30,216.50 L444.80,216.50 L445.30,216.50 L445.80,216.50 L446.30,216.50 L446.80,216.50 L447.30,216.50 L447.80,216.50 L448.30,216.50 L448.80,216.50 L449.30,216.50 L449.80,216.50 L450.30,216.50 L450.80,216.50 L451.30,216.50 L451.80,216.50 L452.30,216.50 L452.80,216.50 L453.30,216.50 L453.80,216.50 L454.30,216.50 L454.80,216.50 L455.30,216.49 L455.80,216.41 L456.30,216.27 L456.80,216.08 L457.30,215.87 L457.80,215.64 L458.30,215.40 L458.80,215.11 L459.30,214.75 L459.80,214.34 L460.30,213.88 L460.80,213.38 L461.30,212.86 L461.80,212.31 L462.30,211.74 L462.80,211.14 L463.30,210.47 L463.80,209.73 L464.30,208.88 L464.80,207.92 L465.30,206.79 L465.80,205.36 L466.30,203.61 L466.80,201.53 L467.30,198.95 L467.80,195.40 L468.30,190.91 L468.80,185.20 L469.30,180.14 L469.80,176.03 L470.30,172.83 L470.80,169.44 L471.30,165.83 L471.80,161.36 L472.30,156.10 L472.80,151.28 L473.30,142.38 L473.80,131.49 L474.30,125.30 L474.80,117.94 L475.30,110.67 L475.80,104.39 L476.30,99.15 L476.80,94.39 L477.30,89.80 L477.80,85.92 L478.30,82.23 L478.80,77.64 L479.30,69.82 L479.80,61.47 L480.30,56.04 L480.80,52.39 L481.30,50.24 L481.80,49.31 L482.30,48.85 L482.80,48.51 L483.30,48.32 L483.80,48.32 L484.30,48.43 L484.80,48.65 L485.30,49.00 L485.80,51.36 L486.30,54.67 L486.80,60.32 L487.30,68.25 L487.80,78.97 L488.30,87.44 L488.80,93.45 L489.30,99.81 L489.80,107.29 L490.30,113.20 L490.80,117.08 L491.30,121.30 L491.80,128.34 L492.30,147.23 L492.80,154.35 L493.30,160.55 L493.80,167.28 L494.30,171.18 L494.80,173.61 L495.30,175.43 L495.80,176.77 L496.30,177.82 L496.80,178.70 L497.30,179.42 L497.80,180.01 L498.30,180.48 L498.80,180.92 L499.30,181.35 L499.80,181.77 L500.30,182.16 L500.80,182.53 L501.30,182.87 L501.80,183.17 L502.30,183.44 L502.80,183.65 L503.30,183.82 L503.80,183.94 L504.30,183.99 L504.80,184.00 L505.30,183.97 L505.80,183.92 L506.30,183.85 L506.80,183.76 L507.30,183.65 L507.80,183.53 L508.30,183.39 L508.80,183.23 L509.30,183.07 L509.80,182.89 L510.30,182.70 L510.80,182.51 L511.30,182.30 L511.80,182.10 L512.30,181.89 L512.80,181.66 L513.30,181.37 L513.80,181.02 L514.30,180.63 L514.80,180.20 L515.30,179.75 L515.80,179.27 L516.30,178.80 L516.80,178.32 L517.30,177.86 L517.80,177.43 L518.30,176.98 L518.80,176.51 L519.30,176.04 L519.80,175.56 L520.30,175.09 L520.80,174.62 L521.30,174.16 L521.80,173.72 L522.30,173.31 L522.80,172.92 L523.30,172.53 L523.80,172.13 L524.30,171.71 L524.80,171.29 L525.30,170.87 L525.80,170.46 L526.30,170.06 L526.80,169.69 L527.30,169.35 L527.80,169.05 L528.30,168.78 L528.80,168.57 L529.30,168.42 L529.80,168.32 L530.30,168.30 L530.80,168.33 L531.30,168.39 L531.80,168.48 L532.30,168.61 L532.80,168.75 L533.30,168.92 L533.80,169.10 L534.30,169.30 L534.80,169.50 L535.30,169.71 L535.80,169.92 L536.30,170.14 L536.80,170.42 L537.30,170.75 L537.80,171.11 L538.30,171.48 L538.80,171.85 L539.30,172.19 L539.80,172.49 L540.30,172.75 L540.80,173.02 L541.30,173.29 L541.80,173.56 L542.30,173.82 L542.80,174.05 L543.30,174.25 L543.80,174.42 L544.30,174.54 L544.80,174.59 L545.30,174.59 L545.80,174.50 L546.30,174.36 L546.80,174.17 L547.30,173.94 L547.80,173.69 L548.30,173.42 L548.80,173.15 L549.30,172.90 L549.80,172.65 L550.30,172.37 L550.80,172.07 L551.30,171.75 L551.80,171.44 L552.30,171.15 L552.80,170.89 L553.30,170.67 L553.80,170.46 L554.30,170.26 L554.80,170.07 L555.30,169.88 L555.80,169.71 L556.30,169.55 L556.80,169.40 L557.30,169.26 L557.80,169.14 L558.30,169.04 L558.80,168.93 L559.30,168.82 L559.80,168.72 L560.30,168.62 L560.80,168.53 L561.30,168.44 L561.80,168.37 L562.30,168.30 L562.80,168.25 L563.30,168.22 L563.80,168.20 L564.30,168.20 L564.80,168.20 L565.30,168.21 L565.80,168.22 L566.30,168.24 L566.80,168.25 L567.30,168.27 L567.80,168.29 L568.30,168.31 L568.80,168.34 L569.30,168.36 L569.80,168.39 L570.30,168.41 L570.80,168.44 L571.30,168.46 L571.80,168.49 L572.30,168.52 L572.80,168.55 L573.30,168.59 L573.80,168.63 L574.30,168.68 L574.80,168.73 L575.30,168.77 L575.80,168.82 L576.30,168.87 L576.80,168.91 L577.30,168.94 L577.80,168.97 L578.30,168.99 L578.80,169.00 L579.30,169.00 L579.80,168.98 L580.30,168.95 L580.80,168.90 L581.30,168.84 L581.80,168.76 L582.30,168.68 L582.80,168.59 L583.30,168.49 L583.80,168.38 L584.30,168.27 L584.80,168.16 L585.30,168.04 L585.80,167.92 L586.30,167.79 L586.80,167.67 L587.30,167.55 L587.80,167.44 L588.30,167.33 L588.80,167.22 L589.30,167.12 L589.80,167.03 L590.30,166.95 L590.80,166.87 L591.30,166.79 L591.80,166.71 L592.30,166.64 L592.80,166.56 L593.30,166.48 L593.80,166.41 L594.30,166.34 L594.80,166.26 L595.30,166.19 L595.80,166.12 L596.30,166.04 L596.80,165.97 L597.30,165.90 L597.80,165.82 L598.30,165.75 L598.80,165.68 L599.30,165.60 L599.80,165.53 L600.30,165.45 L600.80,165.38 L601.30,165.30 L601.80,165.22 L602.30,165.14 L602.80,165.06 L603.30,164.98 L603.80,164.90 L604.30,164.82 L604.80,164.74 L605.30,164.67 L605.80,164.59 L606.30,164.51 L606.80,164.44 L607.30,164.36 L607.80,164.29 L608.30,164.22 L608.80,164.15 L609.30,164.09 L609.80,164.02 L610.30,163.96 L610.80,163.91 L611.30,163.85 L611.80,163.80 L612.30,163.74 L612.80,163.69 L613.30,163.64 L613.80,163.59 L614.30,163.54 L614.80,163.49 L615.30,163.45 L615.80,163.40 L616.30,163.35 L616.80,163.31 L617.30,163.26 L617.80,163.21 L618.30,163.17 L618.80,163.12 L619.30,163.07 L619.80,163.02 L620.30,162.97 L620.80,162.92 L621.30,162.88 L621.80,162.83 L622.30,162.79 L622.80,162.75 L623.30,162.70 L623.80,162.66 L624.30,162.62 L624.80,162.57 L625.30,162.53 L625.80,162.48 L626.30,162.44 L626.80,162.39 L627.30,162.33 L627.80,162.28 L628.30,162.22 L628.80,162.16 L629.30,162.10 L629.80,162.03 L630.30,161.95 L630.80,161.85 L631.30,161.73 L631.80,161.58 L632.30,161.43 L632.80,161.26 L633.30,161.10 L633.80,160.93 L634.30,160.76 L634.80,160.61 L635.30,160.46 L635.80,160.34 L636.30,160.24 L636.80,160.16 L637.30,160.11 L637.80,160.10 L638.30,160.12 L638.80,160.18 L639.30,160.26 L639.80,160.36 L640.30,160.48 L640.80,160.60 L641.30,160.74 L641.80,160.88 L642.30,161.01 L642.80,161.14 L643.30,161.26 L643.80,161.36 L644.30,161.43 L644.80,161.49 L645.30,161.52 L645.80,161.54 L646.30,161.56 L646.80,161.59 L647.30,161.61 L647.80,161.63 L648.30,161.64 L648.80,161.66 L649.30,161.67 L649.80,161.68 L650.30,161.69 L650.80,161.70 L651.30,161.70 L651.50,161.70" fill="none" stroke="#2a2a2a" stroke-width="1.0" stroke-dasharray="4.7 2.9" stroke-dashoffset="5.08" stroke-linejoin="round"/>
<path d="M398.80,214.50 L399.30,214.50 L399.80,214.50 L400.30,214.50 L400.80,214.50 L401.30,214.50 L401.80,214.50 L402.30,214.50 L402.80,214.50 L403.30,214.50 L403.80,214.50 L404.30,214.49 L404.80,214.49 L405.30,214.49 L405.80,214.49 L406.30,214.49 L406.80,214.49 L407.30,214.49 L407.80,214.48 L408.30,214.48 L408.80,214.48 L409.30,214.48 L409.80,214.48 L410.30,214.47 L410.80,214.47 L411.30,214.47 L411.80,214.47 L412.30,214.46 L412.80,214.46 L413.30,214.46 L413.80,214.45 L414.30,214.45 L414.80,214.45 L415.30,214.44 L415.80,214.44 L416.30,214.43 L416.80,214.43 L417.30,214.43 L417.80,214.42 L418.30,214.42 L418.80,214.41 L419.30,214.41 L419.80,214.40 L420.30,214.40 L420.80,214.38 L421.30,214.36 L421.80,214.32 L422.30,214.28 L422.80,214.24 L423.30,214.19 L423.80,214.13 L424.30,214.07 L424.80,214.01 L425.30,213.94 L425.80,213.87 L426.30,213.80 L426.80,213.73 L427.30,213.65 L427.80,213.58 L428.30,213.51 L428.80,213.44 L429.30,213.37 L429.80,213.29 L430.30,213.21 L430.80,213.12 L431.30,213.03 L431.80,212.94 L432.30,212.84 L432.80,212.75 L433.30,212.65 L433.80,212.54 L434.30,212.44 L434.80,212.33 L435.30,212.23 L435.80,212.12 L436.30,212.01 L436.80,211.90 L437.30,211.79 L437.80,211.68 L438.30,211.57 L438.80,211.45 L439.30,211.33 L439.80,211.21 L440.30,211.08 L440.80,210.94 L441.30,210.81 L441.80,210.66 L442.30,210.51 L442.80,210.35 L443.30,210.19 L443.80,210.01 L444.30,209.82 L444.80,209.62 L445.30,209.40 L445.80,209.15 L446.30,208.87 L446.80,208.56 L447.30,208.21 L447.80,207.83 L448.30,207.40 L448.80,206.88 L449.30,206.26 L449.80,205.56 L450.30,204.82 L450.80,204.09 L451.30,203.37 L451.80,202.65 L452.30,201.90 L452.80,201.15 L453.30,200.38 L453.80,199.60 L454.30,198.80 L454.80,197.99 L455.30,197.16 L455.80,196.33 L456.30,195.52 L456.80,194.74 L457.30,194.01 L457.80,193.31 L458.30,192.58 L458.80,191.79 L459.30,190.90 L459.80,189.80 L460.30,188.52 L460.80,187.18 L461.30,185.94 L461.80,184.91 L462.30,184.07 L462.80,183.32 L463.30,182.56 L463.80,181.73 L464.30,180.72 L464.80,179.42 L465.30,177.54 L465.80,175.27 L466.30,172.91 L466.80,170.64 L467.30,168.28 L467.80,165.83 L468.30,163.36 L468.80,160.93 L469.30,158.60 L469.80,156.41 L470.30,154.55 L470.80,153.00 L471.30,151.30 L471.80,149.00 L472.30,144.63 L472.80,139.18 L473.30,135.11 L473.80,131.63 L474.30,129.10 L474.80,127.39 L475.30,125.97 L475.80,124.78 L476.30,123.76 L476.80,122.87 L477.30,122.04 L477.80,121.25 L478.30,120.55 L478.80,119.97 L479.30,119.56 L479.80,119.28 L480.30,119.03 L480.80,118.80 L481.30,118.60 L481.80,118.45 L482.30,118.35 L482.80,118.30 L483.30,118.34 L483.80,118.49 L484.30,118.72 L484.80,118.98 L485.30,119.25 L485.80,119.57 L486.30,119.95 L486.80,120.40 L487.30,120.89 L487.80,121.48 L488.30,122.21 L488.80,123.02 L489.30,123.87 L489.80,124.76 L490.30,125.71 L490.80,126.75 L491.30,127.92 L491.80,129.24 L492.30,130.70 L492.80,132.30 L493.30,134.04 L493.80,135.86 L494.30,137.61 L494.80,139.54 L495.30,142.15 L495.80,146.62 L496.30,149.32 L496.80,150.92 L497.30,152.49 L497.80,155.00 L498.30,158.08 L498.80,159.80 L499.30,161.09 L499.80,162.17 L500.30,163.17 L500.80,164.24 L501.30,165.32 L501.80,166.38 L502.30,167.38 L502.80,168.31 L503.30,169.16 L503.80,169.97 L504.30,170.73 L504.80,171.38 L505.30,171.89 L505.80,172.31 L506.30,172.67 L506.80,172.97 L507.30,173.20 L507.80,173.40 L508.30,173.57 L508.80,173.68 L509.30,173.70 L509.80,173.70 L510.30,173.70 L510.80,173.70 L511.30,173.70 L511.80,173.70 L512.30,173.70 L512.80,173.70 L513.30,173.70 L513.80,173.70 L514.30,173.70 L514.80,173.69 L515.30,173.64 L515.80,173.58 L516.30,173.50 L516.80,173.41 L517.30,173.30 L517.80,173.20 L518.30,173.09 L518.80,172.98 L519.30,172.88 L519.80,172.80 L520.30,172.72 L520.80,172.64 L521.30,172.56 L521.80,172.49 L522.30,172.41 L522.80,172.33 L523.30,172.25 L523.80,172.18 L524.30,172.11 L524.80,172.04 L525.30,171.98 L525.80,171.92 L526.30,171.87 L526.80,171.81 L527.30,171.76 L527.80,171.71 L528.30,171.66 L528.80,171.62 L529.30,171.57 L529.80,171.52 L530.30,171.48 L530.80,171.44 L531.30,171.39 L531.80,171.35 L532.30,171.31 L532.80,171.27 L533.30,171.23 L533.80,171.19 L534.30,171.16 L534.80,171.12 L535.30,171.08 L535.80,171.04 L536.30,171.01 L536.80,170.97 L537.30,170.94 L537.80,170.90 L538.30,170.87 L538.80,170.83 L539.30,170.80 L539.80,170.76 L540.30,170.73 L540.80,170.70 L541.30,170.66 L541.80,170.63 L542.30,170.59 L542.80,170.56 L543.30,170.52 L543.80,170.49 L544.30,170.45 L544.80,170.41 L545.30,170.38 L545.80,170.34 L546.30,170.30 L546.80,170.26 L547.30,170.23 L547.80,170.19 L548.30,170.14 L548.80,170.10 L549.30,170.06 L549.80,170.02 L550.30,169.97 L550.80,169.93 L551.30,169.88 L551.80,169.84 L552.30,169.79 L552.80,169.75 L553.30,169.70 L553.80,169.66 L554.30,169.61 L554.80,169.57 L555.30,169.52 L555.80,169.47 L556.30,169.43 L556.80,169.38 L557.30,169.33 L557.80,169.29 L558.30,169.24 L558.80,169.19 L559.30,169.14 L559.80,169.09 L560.30,169.05 L560.80,169.00 L561.30,168.95 L561.80,168.90 L562.30,168.85 L562.80,168.80 L563.30,168.75 L563.80,168.70 L564.30,168.65 L564.80,168.60 L565.30,168.55 L565.80,168.50 L566.30,168.44 L566.80,168.39 L567.30,168.34 L567.80,168.29 L568.30,168.23 L568.80,168.18 L569.30,168.13 L569.80,168.08 L570.30,168.02 L570.80,167.97 L571.30,167.91 L571.80,167.86 L572.30,167.80 L572.80,167.75 L573.30,167.69 L573.80,167.64 L574.30,167.58 L574.80,167.52 L575.30,167.47 L575.80,167.41 L576.30,167.35 L576.80,167.29 L577.30,167.22 L577.80,167.16 L578.30,167.09 L578.80,167.03 L579.30,166.96 L579.80,166.89 L580.30,166.82 L580.80,166.75 L581.30,166.68 L581.80,166.61 L582.30,166.53 L582.80,166.46 L583.30,166.39 L583.80,166.31 L584.30,166.24 L584.80,166.17 L585.30,166.09 L585.80,166.02 L586.30,165.94 L586.80,165.87 L587.30,165.79 L587.80,165.72 L588.30,165.65 L588.80,165.57 L589.30,165.50 L589.80,165.43 L590.30,165.36 L590.80,165.29 L591.30,165.21 L591.80,165.15 L592.30,165.08 L592.80,165.01 L593.30,164.94 L593.80,164.88 L594.30,164.82 L594.80,164.75 L595.30,164.69 L595.80,164.63 L596.30,164.57 L596.80,164.52 L597.30,164.46 L597.80,164.41 L598.30,164.36 L598.80,164.31 L599.30,164.26 L599.80,164.22 L600.30,164.17 L600.80,164.13 L601.30,164.09 L601.80,164.05 L602.30,164.01 L602.80,163.97 L603.30,163.92 L603.80,163.88 L604.30,163.85 L604.80,163.81 L605.30,163.77 L605.80,163.73 L606.30,163.69 L606.80,163.65 L607.30,163.62 L607.80,163.58 L608.30,163.54 L608.80,163.51 L609.30,163.47 L609.80,163.44 L610.30,163.40 L610.80,163.37 L611.30,163.34 L611.80,163.30 L612.30,163.27 L612.80,163.24 L613.30,163.21 L613.80,163.18 L614.30,163.15 L614.80,163.12 L615.30,163.09 L615.80,163.06 L616.30,163.03 L616.80,163.00 L617.30,162.97 L617.80,162.94 L618.30,162.92 L618.80,162.89 L619.30,162.86 L619.80,162.84 L620.30,162.81 L620.80,162.79 L621.30,162.77 L621.80,162.74 L622.30,162.72 L622.80,162.70 L623.30,162.67 L623.80,162.65 L624.30,162.63 L624.80,162.61 L625.30,162.59 L625.80,162.57 L626.30,162.55 L626.80,162.53 L627.30,162.51 L627.80,162.49 L628.30,162.47 L628.80,162.45 L629.30,162.43 L629.80,162.41 L630.30,162.39 L630.80,162.37 L631.30,162.35 L631.80,162.33 L632.30,162.31 L632.80,162.29 L633.30,162.28 L633.80,162.26 L634.30,162.24 L634.80,162.22 L635.30,162.20 L635.80,162.19 L636.30,162.17 L636.80,162.15 L637.30,162.14 L637.80,162.12 L638.30,162.10 L638.80,162.09 L639.30,162.07 L639.80,162.06 L640.30,162.04 L640.80,162.03 L641.30,162.01 L641.80,162.00 L642.30,161.99 L642.80,161.97 L643.30,161.96 L643.80,161.95 L644.30,161.94 L644.80,161.92 L645.30,161.91 L645.80,161.90 L646.30,161.89 L646.80,161.88 L647.30,161.87 L647.80,161.86 L648.30,161.85 L648.80,161.84 L649.30,161.83 L649.80,161.82 L650.30,161.82 L650.80,161.81 L651.30,161.80 L651.50,161.80" fill="none" stroke="#ff2020" stroke-width="1.0" stroke-linejoin="round"/>
<path d="M398.80,210.90 L399.30,210.91 L399.80,210.93 L400.30,210.94 L400.80,210.95 L401.30,210.96 L401.80,210.97 L402.30,210.98 L402.80,210.99 L403.30,211.00 L403.80,211.01 L404.30,211.02 L404.80,211.03 L405.30,211.03 L405.80,211.04 L406.30,211.05 L406.80,211.05 L407.30,211.06 L407.80,211.06 L408.30,211.07 L408.80,211.07 L409.30,211.07 L409.80,211.08 L410.30,211.08 L410.80,211.08 L411.30,211.09 L411.80,211.09 L412.30,211.09 L412.80,211.09 L413.30,211.09 L413.80,211.09 L414.30,211.10 L414.80,211.10 L415.30,211.10 L415.80,211.10 L416.30,211.10 L416.80,211.10 L417.30,211.10 L417.80,211.10 L418.30,211.10 L418.80,211.10 L419.30,211.10 L419.80,211.10 L420.30,211.10 L420.80,211.09 L421.30,211.06 L421.80,211.03 L422.30,210.99 L422.80,210.94 L423.30,210.88 L423.80,210.82 L424.30,210.75 L424.80,210.68 L425.30,210.60 L425.80,210.52 L426.30,210.44 L426.80,210.36 L427.30,210.28 L427.80,210.20 L428.30,210.12 L428.80,210.04 L429.30,209.95 L429.80,209.86 L430.30,209.77 L430.80,209.67 L431.30,209.56 L431.80,209.46 L432.30,209.34 L432.80,209.22 L433.30,209.10 L433.80,208.97 L434.30,208.84 L434.80,208.70 L435.30,208.56 L435.80,208.41 L436.30,208.26 L436.80,208.10 L437.30,207.92 L437.80,207.72 L438.30,207.49 L438.80,207.26 L439.30,207.02 L439.80,206.79 L440.30,206.57 L440.80,206.36 L441.30,206.16 L441.80,205.96 L442.30,205.76 L442.80,205.55 L443.30,205.33 L443.80,205.10 L444.30,204.86 L444.80,204.59 L445.30,204.31 L445.80,204.00 L446.30,203.68 L446.80,203.34 L447.30,202.99 L447.80,202.62 L448.30,202.23 L448.80,201.83 L449.30,201.42 L449.80,200.98 L450.30,200.52 L450.80,200.02 L451.30,199.51 L451.80,198.96 L452.30,198.40 L452.80,197.80 L453.30,197.16 L453.80,196.47 L454.30,195.74 L454.80,194.97 L455.30,194.18 L455.80,193.37 L456.30,192.51 L456.80,191.60 L457.30,190.68 L457.80,189.76 L458.30,188.80 L458.80,187.84 L459.30,186.87 L459.80,185.92 L460.30,185.00 L460.80,184.15 L461.30,183.38 L461.80,182.61 L462.30,181.80 L462.80,180.87 L463.30,179.76 L463.80,178.31 L464.30,176.58 L464.80,174.68 L465.30,172.75 L465.80,170.86 L466.30,168.82 L466.80,166.69 L467.30,164.51 L467.80,162.35 L468.30,160.27 L468.80,158.34 L469.30,156.62 L469.80,155.17 L470.30,154.01 L470.80,153.00 L471.30,151.98 L471.80,150.81 L472.30,149.34 L472.80,147.10 L473.30,144.06 L473.80,141.45 L474.30,139.28 L474.80,137.29 L475.30,135.65 L475.80,134.47 L476.30,133.48 L476.80,132.60 L477.30,131.82 L477.80,131.17 L478.30,130.62 L478.80,130.20 L479.30,129.84 L479.80,129.50 L480.30,129.18 L480.80,128.90 L481.30,128.68 L481.80,128.51 L482.30,128.42 L482.80,128.41 L483.30,128.46 L483.80,128.57 L484.30,128.70 L484.80,128.87 L485.30,129.03 L485.80,129.25 L486.30,129.52 L486.80,129.85 L487.30,130.22 L487.80,130.68 L488.30,131.28 L488.80,131.96 L489.30,132.63 L489.80,133.28 L490.30,133.97 L490.80,134.75 L491.30,135.71 L491.80,136.93 L492.30,138.27 L492.80,139.60 L493.30,141.71 L493.80,146.62 L494.30,149.14 L494.80,150.55 L495.30,151.61 L495.80,152.61 L496.30,153.81 L496.80,155.10 L497.30,156.39 L497.80,157.61 L498.30,158.71 L498.80,159.71 L499.30,160.66 L499.80,161.56 L500.30,162.41 L500.80,163.20 L501.30,163.94 L501.80,164.65 L502.30,165.32 L502.80,165.95 L503.30,166.56 L503.80,167.14 L504.30,167.68 L504.80,168.20 L505.30,168.70 L505.80,169.20 L506.30,169.67 L506.80,170.12 L507.30,170.53 L507.80,170.90 L508.30,171.20 L508.80,171.48 L509.30,171.75 L509.80,171.99 L510.30,172.17 L510.80,172.28 L511.30,172.31 L511.80,172.33 L512.30,172.35 L512.80,172.36 L513.30,172.37 L513.80,172.38 L514.30,172.39 L514.80,172.39 L515.30,172.40 L515.80,172.40 L516.30,172.40 L516.80,172.39 L517.30,172.38 L517.80,172.36 L518.30,172.33 L518.80,172.30 L519.30,172.26 L519.80,172.22 L520.30,172.18 L520.80,172.13 L521.30,172.09 L521.80,172.04 L522.30,171.99 L522.80,171.94 L523.30,171.90 L523.80,171.85 L524.30,171.81 L524.80,171.77 L525.30,171.74 L525.80,171.71 L526.30,171.69 L526.80,171.66 L527.30,171.64 L527.80,171.62 L528.30,171.60 L528.80,171.58 L529.30,171.56 L529.80,171.54 L530.30,171.52 L530.80,171.51 L531.30,171.49 L531.80,171.47 L532.30,171.46 L532.80,171.44 L533.30,171.43 L533.80,171.41 L534.30,171.40 L534.80,171.38 L535.30,171.37 L535.80,171.35 L536.30,171.34 L536.80,171.33 L537.30,171.31 L537.80,171.30 L538.30,171.29 L538.80,171.27 L539.30,171.26 L539.80,171.25 L540.30,171.23 L540.80,171.22 L541.30,171.21 L541.80,171.19 L542.30,171.18 L542.80,171.16 L543.30,171.15 L543.80,171.13 L544.30,171.12 L544.80,171.10 L545.30,171.09 L545.80,171.07 L546.30,171.05 L546.80,171.03 L547.30,171.01 L547.80,170.99 L548.30,170.97 L548.80,170.95 L549.30,170.93 L549.80,170.91 L550.30,170.89 L550.80,170.86 L551.30,170.84 L551.80,170.81 L552.30,170.78 L552.80,170.76 L553.30,170.73 L553.80,170.70 L554.30,170.67 L554.80,170.64 L555.30,170.60 L555.80,170.57 L556.30,170.54 L556.80,170.50 L557.30,170.47 L557.80,170.43 L558.30,170.40 L558.80,170.36 L559.30,170.32 L559.80,170.29 L560.30,170.25 L560.80,170.21 L561.30,170.17 L561.80,170.13 L562.30,170.09 L562.80,170.05 L563.30,170.01 L563.80,169.97 L564.30,169.93 L564.80,169.89 L565.30,169.84 L565.80,169.80 L566.30,169.76 L566.80,169.72 L567.30,169.67 L567.80,169.63 L568.30,169.59 L568.80,169.54 L569.30,169.50 L569.80,169.45 L570.30,169.41 L570.80,169.37 L571.30,169.32 L571.80,169.28 L572.30,169.24 L572.80,169.19 L573.30,169.15 L573.80,169.10 L574.30,169.06 L574.80,169.02 L575.30,168.97 L575.80,168.93 L576.30,168.89 L576.80,168.84 L577.30,168.80 L577.80,168.75 L578.30,168.71 L578.80,168.66 L579.30,168.62 L579.80,168.57 L580.30,168.53 L580.80,168.48 L581.30,168.43 L581.80,168.39 L582.30,168.34 L582.80,168.29 L583.30,168.24 L583.80,168.20 L584.30,168.15 L584.80,168.10 L585.30,168.05 L585.80,168.00 L586.30,167.95 L586.80,167.90 L587.30,167.85 L587.80,167.80 L588.30,167.75 L588.80,167.70 L589.30,167.65 L589.80,167.60 L590.30,167.55 L590.80,167.49 L591.30,167.44 L591.80,167.39 L592.30,167.34 L592.80,167.28 L593.30,167.23 L593.80,167.18 L594.30,167.13 L594.80,167.07 L595.30,167.02 L595.80,166.96 L596.30,166.91 L596.80,166.85 L597.30,166.80 L597.80,166.74 L598.30,166.69 L598.80,166.63 L599.30,166.58 L599.80,166.52 L600.30,166.47 L600.80,166.41 L601.30,166.35 L601.80,166.29 L602.30,166.23 L602.80,166.16 L603.30,166.10 L603.80,166.03 L604.30,165.97 L604.80,165.90 L605.30,165.83 L605.80,165.76 L606.30,165.69 L606.80,165.62 L607.30,165.55 L607.80,165.48 L608.30,165.41 L608.80,165.33 L609.30,165.26 L609.80,165.19 L610.30,165.11 L610.80,165.04 L611.30,164.97 L611.80,164.90 L612.30,164.82 L612.80,164.75 L613.30,164.68 L613.80,164.61 L614.30,164.54 L614.80,164.47 L615.30,164.40 L615.80,164.33 L616.30,164.26 L616.80,164.20 L617.30,164.13 L617.80,164.07 L618.30,164.00 L618.80,163.94 L619.30,163.88 L619.80,163.82 L620.30,163.76 L620.80,163.70 L621.30,163.65 L621.80,163.60 L622.30,163.54 L622.80,163.49 L623.30,163.45 L623.80,163.40 L624.30,163.36 L624.80,163.32 L625.30,163.28 L625.80,163.24 L626.30,163.20 L626.80,163.16 L627.30,163.12 L627.80,163.08 L628.30,163.04 L628.80,163.01 L629.30,162.97 L629.80,162.93 L630.30,162.89 L630.80,162.86 L631.30,162.82 L631.80,162.78 L632.30,162.75 L632.80,162.71 L633.30,162.68 L633.80,162.64 L634.30,162.61 L634.80,162.58 L635.30,162.54 L635.80,162.51 L636.30,162.48 L636.80,162.44 L637.30,162.41 L637.80,162.38 L638.30,162.35 L638.80,162.32 L639.30,162.29 L639.80,162.26 L640.30,162.24 L640.80,162.21 L641.30,162.18 L641.80,162.16 L642.30,162.13 L642.80,162.11 L643.30,162.08 L643.80,162.06 L644.30,162.04 L644.80,162.01 L645.30,161.99 L645.80,161.97 L646.30,161.95 L646.80,161.93 L647.30,161.92 L647.80,161.90 L648.30,161.88 L648.80,161.87 L649.30,161.85 L649.80,161.84 L650.30,161.83 L650.80,161.81 L651.30,161.80 L651.50,161.80" fill="none" stroke="#1e1eff" stroke-width="1.0" stroke-linejoin="round"/>
<path d="M398.80,206.20 L399.30,206.21 L399.80,206.21 L400.30,206.22 L400.80,206.23 L401.30,206.23 L401.80,206.24 L402.30,206.24 L402.80,206.25 L403.30,206.25 L403.80,206.26 L404.30,206.26 L404.80,206.26 L405.30,206.27 L405.80,206.27 L406.30,206.27 L406.80,206.28 L407.30,206.28 L407.80,206.28 L408.30,206.28 L408.80,206.29 L409.30,206.29 L409.80,206.29 L410.30,206.29 L410.80,206.29 L411.30,206.29 L411.80,206.29 L412.30,206.30 L412.80,206.30 L413.30,206.30 L413.80,206.30 L414.30,206.30 L414.80,206.30 L415.30,206.30 L415.80,206.30 L416.30,206.30 L416.80,206.30 L417.30,206.30 L417.80,206.30 L418.30,206.30 L418.80,206.30 L419.30,206.30 L419.80,206.30 L420.30,206.30 L420.80,206.28 L421.30,206.26 L421.80,206.22 L422.30,206.18 L422.80,206.12 L423.30,206.06 L423.80,205.99 L424.30,205.92 L424.80,205.84 L425.30,205.75 L425.80,205.67 L426.30,205.58 L426.80,205.49 L427.30,205.40 L427.80,205.31 L428.30,205.22 L428.80,205.13 L429.30,205.03 L429.80,204.93 L430.30,204.82 L430.80,204.70 L431.30,204.58 L431.80,204.45 L432.30,204.32 L432.80,204.18 L433.30,204.04 L433.80,203.90 L434.30,203.75 L434.80,203.60 L435.30,203.45 L435.80,203.30 L436.30,203.15 L436.80,203.00 L437.30,202.84 L437.80,202.68 L438.30,202.51 L438.80,202.33 L439.30,202.15 L439.80,201.97 L440.30,201.79 L440.80,201.61 L441.30,201.44 L441.80,201.26 L442.30,201.08 L442.80,200.89 L443.30,200.69 L443.80,200.48 L444.30,200.25 L444.80,200.00 L445.30,199.72 L445.80,199.43 L446.30,199.10 L446.80,198.76 L447.30,198.40 L447.80,198.03 L448.30,197.64 L448.80,197.23 L449.30,196.82 L449.80,196.38 L450.30,195.91 L450.80,195.42 L451.30,194.90 L451.80,194.35 L452.30,193.79 L452.80,193.20 L453.30,192.56 L453.80,191.87 L454.30,191.15 L454.80,190.43 L455.30,189.72 L455.80,189.02 L456.30,188.33 L456.80,187.63 L457.30,186.93 L457.80,186.22 L458.30,185.50 L458.80,184.81 L459.30,184.15 L459.80,183.51 L460.30,182.84 L460.80,182.12 L461.30,181.32 L461.80,180.40 L462.30,179.30 L462.80,177.86 L463.30,176.19 L463.80,174.42 L464.30,172.67 L464.80,171.00 L465.30,169.27 L465.80,167.48 L466.30,165.65 L466.80,163.84 L467.30,162.06 L467.80,160.35 L468.30,158.75 L468.80,157.29 L469.30,156.00 L469.80,154.89 L470.30,153.91 L470.80,153.02 L471.30,152.17 L471.80,151.32 L472.30,150.42 L472.80,149.43 L473.30,148.27 L473.80,146.89 L474.30,145.47 L474.80,144.21 L475.30,143.25 L475.80,142.36 L476.30,141.55 L476.80,140.81 L477.30,140.18 L477.80,139.65 L478.30,139.25 L478.80,138.87 L479.30,138.51 L479.80,138.18 L480.30,137.89 L480.80,137.66 L481.30,137.49 L481.80,137.41 L482.30,137.40 L482.80,137.43 L483.30,137.48 L483.80,137.55 L484.30,137.63 L484.80,137.72 L485.30,137.82 L485.80,137.97 L486.30,138.17 L486.80,138.43 L487.30,138.74 L487.80,139.19 L488.30,139.75 L488.80,140.33 L489.30,140.93 L489.80,141.60 L490.30,142.41 L490.80,143.45 L491.30,145.28 L491.80,146.83 L492.30,147.98 L492.80,149.00 L493.30,149.94 L493.80,150.81 L494.30,151.64 L494.80,152.46 L495.30,153.30 L495.80,154.17 L496.30,155.05 L496.80,155.93 L497.30,156.81 L497.80,157.66 L498.30,158.50 L498.80,159.34 L499.30,160.20 L499.80,161.06 L500.30,161.88 L500.80,162.65 L501.30,163.33 L501.80,163.91 L502.30,164.42 L502.80,164.90 L503.30,165.34 L503.80,165.76 L504.30,166.14 L504.80,166.50 L505.30,166.83 L505.80,167.13 L506.30,167.41 L506.80,167.66 L507.30,167.90 L507.80,168.12 L508.30,168.33 L508.80,168.51 L509.30,168.67 L509.80,168.82 L510.30,168.96 L510.80,169.09 L511.30,169.21 L511.80,169.32 L512.30,169.42 L512.80,169.51 L513.30,169.59 L513.80,169.65 L514.30,169.72 L514.80,169.78 L515.30,169.85 L515.80,169.90 L516.30,169.96 L516.80,170.00 L517.30,170.04 L517.80,170.07 L518.30,170.09 L518.80,170.10 L519.30,170.10 L519.80,170.10 L520.30,170.10 L520.80,170.10 L521.30,170.10 L521.80,170.10 L522.30,170.10 L522.80,170.10 L523.30,170.10 L523.80,170.10 L524.30,170.10 L524.80,170.10 L525.30,170.10 L525.80,170.10 L526.30,170.10 L526.80,170.10 L527.30,170.10 L527.80,170.10 L528.30,170.10 L528.80,170.10 L529.30,170.11 L529.80,170.11 L530.30,170.11 L530.80,170.11 L531.30,170.11 L531.80,170.11 L532.30,170.12 L532.80,170.12 L533.30,170.12 L533.80,170.12 L534.30,170.13 L534.80,170.13 L535.30,170.13 L535.80,170.14 L536.30,170.14 L536.80,170.14 L537.30,170.15 L537.80,170.15 L538.30,170.15 L538.80,170.15 L539.30,170.16 L539.80,170.16 L540.30,170.16 L540.80,170.17 L541.30,170.17 L541.80,170.17 L542.30,170.18 L542.80,170.18 L543.30,170.18 L543.80,170.18 L544.30,170.19 L544.80,170.19 L545.30,170.19 L545.80,170.19 L546.30,170.19 L546.80,170.20 L547.30,170.20 L547.80,170.20 L548.30,170.20 L548.80,170.20 L549.30,170.20 L549.80,170.20 L550.30,170.20 L550.80,170.20 L551.30,170.19 L551.80,170.18 L552.30,170.17 L552.80,170.16 L553.30,170.15 L553.80,170.13 L554.30,170.11 L554.80,170.09 L555.30,170.07 L555.80,170.05 L556.30,170.02 L556.80,169.99 L557.30,169.97 L557.80,169.94 L558.30,169.90 L558.80,169.87 L559.30,169.84 L559.80,169.80 L560.30,169.76 L560.80,169.73 L561.30,169.69 L561.80,169.65 L562.30,169.61 L562.80,169.56 L563.30,169.52 L563.80,169.48 L564.30,169.44 L564.80,169.39 L565.30,169.35 L565.80,169.30 L566.30,169.26 L566.80,169.21 L567.30,169.17 L567.80,169.12 L568.30,169.08 L568.80,169.03 L569.30,168.99 L569.80,168.94 L570.30,168.90 L570.80,168.85 L571.30,168.81 L571.80,168.76 L572.30,168.72 L572.80,168.68 L573.30,168.64 L573.80,168.59 L574.30,168.55 L574.80,168.52 L575.30,168.48 L575.80,168.44 L576.30,168.40 L576.80,168.36 L577.30,168.32 L577.80,168.28 L578.30,168.24 L578.80,168.20 L579.30,168.16 L579.80,168.12 L580.30,168.08 L580.80,168.03 L581.30,167.99 L581.80,167.95 L582.30,167.91 L582.80,167.86 L583.30,167.82 L583.80,167.78 L584.30,167.74 L584.80,167.69 L585.30,167.65 L585.80,167.60 L586.30,167.56 L586.80,167.52 L587.30,167.47 L587.80,167.43 L588.30,167.38 L588.80,167.34 L589.30,167.29 L589.80,167.25 L590.30,167.20 L590.80,167.15 L591.30,167.11 L591.80,167.06 L592.30,167.02 L592.80,166.97 L593.30,166.92 L593.80,166.88 L594.30,166.83 L594.80,166.79 L595.30,166.74 L595.80,166.69 L596.30,166.65 L596.80,166.60 L597.30,166.55 L597.80,166.51 L598.30,166.46 L598.80,166.41 L599.30,166.37 L599.80,166.32 L600.30,166.27 L600.80,166.22 L601.30,166.18 L601.80,166.13 L602.30,166.08 L602.80,166.03 L603.30,165.98 L603.80,165.93 L604.30,165.88 L604.80,165.83 L605.30,165.78 L605.80,165.73 L606.30,165.68 L606.80,165.62 L607.30,165.57 L607.80,165.52 L608.30,165.47 L608.80,165.42 L609.30,165.36 L609.80,165.31 L610.30,165.26 L610.80,165.21 L611.30,165.15 L611.80,165.10 L612.30,165.05 L612.80,165.00 L613.30,164.94 L613.80,164.89 L614.30,164.84 L614.80,164.79 L615.30,164.73 L615.80,164.68 L616.30,164.63 L616.80,164.58 L617.30,164.53 L617.80,164.48 L618.30,164.43 L618.80,164.38 L619.30,164.33 L619.80,164.28 L620.30,164.23 L620.80,164.18 L621.30,164.14 L621.80,164.09 L622.30,164.04 L622.80,164.00 L623.30,163.95 L623.80,163.91 L624.30,163.86 L624.80,163.82 L625.30,163.77 L625.80,163.73 L626.30,163.69 L626.80,163.65 L627.30,163.60 L627.80,163.56 L628.30,163.52 L628.80,163.48 L629.30,163.44 L629.80,163.39 L630.30,163.35 L630.80,163.31 L631.30,163.27 L631.80,163.23 L632.30,163.19 L632.80,163.15 L633.30,163.11 L633.80,163.07 L634.30,163.03 L634.80,162.99 L635.30,162.95 L635.80,162.91 L636.30,162.87 L636.80,162.83 L637.30,162.80 L637.80,162.76 L638.30,162.72 L638.80,162.68 L639.30,162.64 L639.80,162.61 L640.30,162.57 L640.80,162.53 L641.30,162.50 L641.80,162.46 L642.30,162.42 L642.80,162.39 L643.30,162.35 L643.80,162.32 L644.30,162.28 L644.80,162.24 L645.30,162.21 L645.80,162.18 L646.30,162.14 L646.80,162.11 L647.30,162.07 L647.80,162.04 L648.30,162.01 L648.80,161.97 L649.30,161.94 L649.80,161.91 L650.30,161.88 L650.80,161.84 L651.30,161.81 L651.50,161.80" fill="none" stroke="#28a828" stroke-width="1.0" stroke-linejoin="round"/>
</g>
<g class="n">
<text x="378.40" y="221.65">0</text>
<text x="378.70" y="168.65">1</text>
<text x="378.60" y="115.65">2</text>
<text x="378.40" y="62.65">3</text>
<text x="378.00" y="9.65">4</text>
<text x="389.80" y="242.00">0.0</text>
<text x="440.44" y="242.00">0.2</text>
<text x="490.68" y="242.00">0.4</text>
<text x="541.32" y="242.00">0.6</text>
<text x="591.96" y="242.00">0.8</text>
<text x="642.15" y="242.00">1.0</text>
<text x="504.00" y="269.60" font-style="italic">r</text>
<text x="516.10" y="269.60">(</text>
<text x="521.00" y="269.60">nm</text>
<text x="541.20" y="269.60">)</text>
<text x="532.00" y="117.00" font-style="italic">T</text>
<rect x="547.40" y="111.35" width="9.2" height="0.9" fill="#222"/><rect x="547.40" y="114.05" width="9.2" height="0.9" fill="#222"/>
<text x="557.20" y="117.00">500</text>
<text x="583.20" y="117.00">K</text>
</g>
<rect x="583.35" y="4.5" width="68.15" height="84.00" fill="#faebd8" stroke="#808080" stroke-width="1"/>
<g class="n">
<text x="600.50" y="18.70" font-style="italic">t</text>
<text x="610.40" y="18.70">(</text>
<text x="615.30" y="18.70">ns</text>
<text x="629.20" y="18.70">)</text>
</g>
<line x1="593.70" y1="32.50" x2="615.50" y2="32.50" stroke="#2a2a2a" stroke-width="1" stroke-dasharray="4.7 2.9"/>
<g class="n"><text x="625.30" y="37.80">0</text></g>
<line x1="593.70" y1="46.50" x2="615.50" y2="46.50" stroke="#ff2020" stroke-width="1"/>
<g class="n"><text x="625.30" y="51.80">10</text></g>
<line x1="593.70" y1="60.50" x2="615.50" y2="60.50" stroke="#1e1eff" stroke-width="1"/>
<g class="n"><text x="625.10" y="65.80">40</text></g>
<line x1="593.70" y1="74.50" x2="615.50" y2="74.50" stroke="#28a828" stroke-width="1"/>
<g class="n"><text x="625.30" y="79.80">100</text></g>
<g class="n" transform="translate(10.8,134) rotate(-90)">
<text x="-0.40" y="0.00" font-style="italic">G</text>
<text x="10.74" y="2.00" font-size="10.5">d</text>
<text x="20.50" y="0.00">(</text>
<text x="24.80" y="0.00" font-style="italic">r</text>
<text x="31.00" y="0.00">,</text>
<text x="36.20" y="0.00" font-style="italic">t</text>
<text x="42.40" y="0.00">)</text>
</g>
<g class="n" transform="translate(354.0,134) rotate(-90)">
<text x="-0.40" y="0.00" font-style="italic">G</text>
<text x="10.74" y="2.00" font-size="10.5">d</text>
<text x="20.50" y="0.00">(</text>
<text x="24.80" y="0.00" font-style="italic">r</text>
<text x="31.00" y="0.00">,</text>
<text x="36.20" y="0.00" font-style="italic">t</text>
<text x="42.40" y="0.00">)</text>
</g>
<line x1="424.6" y1="163" x2="413.2" y2="194.5" stroke="#111" stroke-width="0.9"/>
<path d="M409.4,203.8 L411.1,194.2 Q413.3,197.3 415.4,195.6 Z" fill="#111"/>
</svg>
</body></html>
